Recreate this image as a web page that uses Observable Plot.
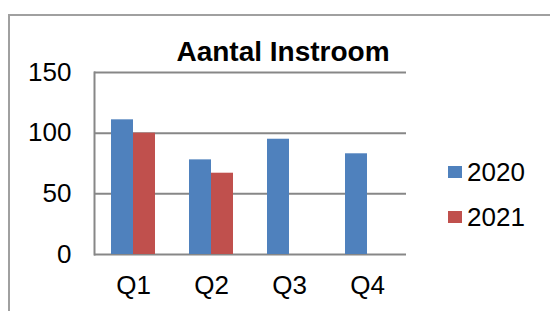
<!DOCTYPE html>
<html>
<head>
<meta charset="utf-8">
<script src="https://cdn.jsdelivr.net/npm/d3@7"></script>
<script src="https://cdn.jsdelivr.net/npm/@observablehq/plot@0.6"></script>
<style>
  html, body { margin: 0; padding: 0; background: #fff; }
  #wrap { position: relative; width: 550px; height: 311px; overflow: hidden; font-family: "Liberation Sans", Arial, sans-serif; }
  #border { position: absolute; left: 8px; top: 14px; width: 600px; height: 400px; border-left: 2px solid #a0a0a0; border-top: 2px solid #a0a0a0; box-sizing: border-box; }
  #chart { position: absolute; left: 0; top: 0; }
  #title { position: absolute; left: 283px; top: 38px; transform: translateX(-50%); font-size: 28px; font-weight: bold; color: #000; white-space: nowrap; line-height: 1; }
  .leg { position: absolute; left: 448px; display: flex; align-items: center; font-size: 26px; color: #000; line-height: 1; }
  .leg .sw { width: 14px; height: 12px; margin-right: 5px; }
</style>
</head>
<body>
<div id="wrap">
  <div id="border"></div>
  <div id="chart"></div>
  <div id="title"></div>
  <div id="legend"></div>
</div>
<script>
const quarters = ["Q1", "Q2", "Q3", "Q4"];
const years = ["2020", "2021"];
const values2020 = [111, 78, 95, 83];
const values2021 = [100, 67, null, null];
const yTicks = [0, 50, 100, 150];
const colors = ["#4F81BD", "#C0504D"];
const titleText = "Aantal Instroom";

const series = {"2020": values2020, "2021": values2021};
const data = quarters.flatMap((q, i) => years.map(year => ({q, year, value: series[year][i]})))
  .filter(d => d.value != null);

const gridColor = "#878787";

const chart = Plot.plot({
  width: 550,
  height: 311,
  marginLeft: 94,
  marginRight: 144,
  marginTop: 72,
  marginBottom: 57,
  style: {fontFamily: "'Liberation Sans', Arial, sans-serif", background: "transparent", color: "#000"},
  fx: {domain: quarters, padding: 0, label: null},
  x: {domain: years, axis: null, paddingInner: 0, paddingOuter: 0.75},
  y: {domain: [0, 150], label: null},
  color: {domain: years, range: colors},
  marks: [
    Plot.ruleY(yTicks, {stroke: gridColor, strokeWidth: 2}),
    Plot.barY(data, {fx: "q", x: "year", y: "value", fill: "year"}),
    Plot.frame({anchor: "left", facetAnchor: "left", stroke: gridColor, strokeWidth: 2}),
    Plot.axisY(yTicks, {tickSize: 0, tickPadding: 23, fontSize: 26, label: null}),
    Plot.axisFx({anchor: "bottom", tickSize: 0, tickPadding: 21, fontSize: 26, label: null})
  ]
});
document.getElementById("chart").appendChild(chart);

document.getElementById("title").textContent = titleText;

const legend = document.getElementById("legend");
years.forEach((y, i) => {
  const item = document.createElement("div");
  item.className = "leg";
  item.style.top = (159 + i * 45) + "px";
  const sw = document.createElement("div");
  sw.className = "sw";
  sw.style.background = colors[i];
  const lab = document.createElement("span");
  lab.textContent = y;
  item.appendChild(sw);
  item.appendChild(lab);
  legend.appendChild(item);
});
</script>
</body>
</html>
